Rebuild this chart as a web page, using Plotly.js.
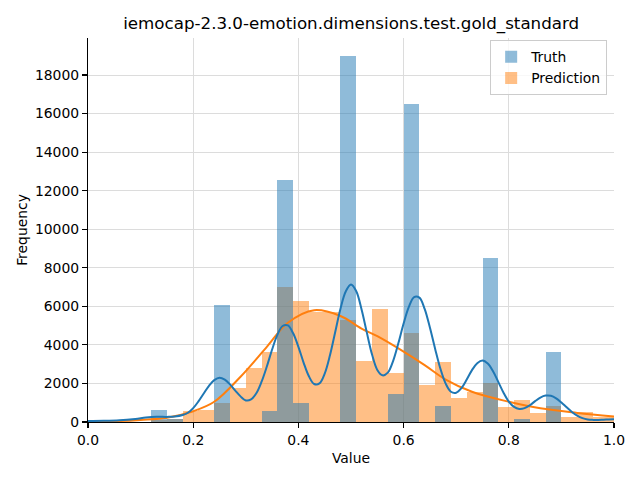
<!DOCTYPE html>
<html>
<head>
<meta charset="utf-8">
<script src="https://cdn.plot.ly/plotly-3.0.1.min.js"></script>
<style>
  html, body { margin: 0; padding: 0; background: #fff; }
  #chart { width: 640px; height: 480px; }
</style>
</head>
<body>
<div id="chart"></div>
<script>
// Histogram bins (centers), bin width 0.03
const binCenters = [0.135, 0.165, 0.195, 0.225, 0.255, 0.285, 0.315, 0.345, 0.375, 0.405,
                    0.435, 0.465, 0.495, 0.525, 0.555, 0.585, 0.615, 0.645, 0.675, 0.705,
                    0.735, 0.765, 0.795, 0.825, 0.855, 0.885, 0.915, 0.945, 0.975, 1.005];
const binWidth = 0.03;

const truthCounts = [620, 130, 0, 0, 6060, 0, 0, 570, 12550, 990,
                     0, 0, 19000, 0, 0, 1450, 16500, 0, 830, 0,
                     0, 8500, 0, 155, 0, 3630, 0, 0, 0, 0];

const predictionCounts = [100, 140, 580, 640, 1000, 1780, 2820, 3650, 7020, 6280,
                          5690, 5690, 5290, 3160, 5850, 2540, 4630, 1920, 3120, 1260,
                          1555, 2000, 780, 1140, 470, 830, 270, 510, 250, 250];

// KDE curves
const truthKdeX = [0.00, 0.03, 0.06, 0.09, 0.11, 0.13, 0.15, 0.165, 0.18, 0.19,
                   0.20, 0.21, 0.22, 0.23, 0.24, 0.25, 0.26, 0.27, 0.28, 0.29,
                   0.30, 0.31, 0.32, 0.33, 0.34, 0.35, 0.36, 0.37, 0.38, 0.39,
                   0.40, 0.41, 0.42, 0.43, 0.44, 0.45, 0.46, 0.47, 0.48, 0.49,
                   0.50, 0.51, 0.52, 0.53, 0.54, 0.55, 0.56, 0.57, 0.58, 0.59,
                   0.60, 0.61, 0.62, 0.63, 0.64, 0.65, 0.66, 0.67, 0.68, 0.69,
                   0.70, 0.71, 0.72, 0.73, 0.74, 0.75, 0.76, 0.77, 0.78, 0.79,
                   0.80, 0.81, 0.82, 0.83, 0.84, 0.85, 0.86, 0.87, 0.88, 0.89,
                   0.90, 0.91, 0.92, 0.93, 0.94, 0.95, 0.96, 0.97, 0.98, 0.99, 1.00];
const truthKdeY = [50, 60, 90, 160, 230, 270, 265, 280, 360, 480,
                   720, 1070, 1480, 1880, 2170, 2300, 2200, 1950, 1630, 1330,
                   1120, 1170, 1490, 2090, 2880, 3760, 4520, 4980, 5010, 4600,
                   3900, 3070, 2370, 1970, 2000, 2510, 3460, 4670, 5880, 6770,
                   7130, 6780, 5850, 4650, 3500, 2700, 2420, 2560, 3160, 4080,
                   5110, 5970, 6480, 6450, 5870, 4900, 3790, 2760, 1990, 1570,
                   1520, 1760, 2200, 2690, 3050, 3190, 3030, 2630, 2080, 1520,
                   1060, 780, 680, 720, 870, 1080, 1270, 1370, 1360, 1230,
                   1010, 760, 520, 330, 200, 130, 110, 110, 120, 130, 140];

const predKdeX = [0.00, 0.05, 0.10, 0.15, 0.20, 0.24, 0.29, 0.34, 0.38, 0.43,
                  0.48, 0.52, 0.55, 0.60, 0.64, 0.68, 0.73, 0.80, 0.86, 0.93, 1.00];
const predKdeY = [20, 40, 110, 220, 560, 1050, 2350, 3900, 5150, 5800,
                  5500, 4850, 4450, 3650, 2950, 2200, 1570, 1050, 710, 470, 280];

const xTicks = [0.0, 0.2, 0.4, 0.6, 0.8, 1.0];
const yTicks = [0, 2000, 4000, 6000, 8000, 10000, 12000, 14000, 16000, 18000];

const FONT = 'DejaVu Sans, sans-serif';

const traces = [
  {
    type: 'bar', name: 'Prediction', x: binCenters, y: predictionCounts,
    width: binCenters.map(() => binWidth),
    marker: { color: 'rgba(255,127,14,0.5)', line: { width: 0 } },
    legendrank: 2, hoverinfo: 'skip'
  },
  {
    type: 'bar', name: 'Truth', x: binCenters, y: truthCounts,
    width: binCenters.map(() => binWidth),
    marker: { color: 'rgba(31,119,180,0.5)', line: { width: 0 } },
    legendrank: 1, hoverinfo: 'skip'
  },
  {
    type: 'scatter', mode: 'lines', x: predKdeX, y: predKdeY,
    line: { color: '#ff7f0e', width: 2, shape: 'spline', smoothing: 1 },
    showlegend: false, hoverinfo: 'skip'
  },
  {
    type: 'scatter', mode: 'lines', x: truthKdeX, y: truthKdeY,
    line: { color: '#1f77b4', width: 2, shape: 'spline', smoothing: 1 },
    showlegend: false, hoverinfo: 'skip'
  }
];

const layout = {
  width: 640, height: 480,
  margin: { l: 88, r: 26, t: 38, b: 58, pad: 0 },
  paper_bgcolor: '#ffffff', plot_bgcolor: '#ffffff',
  barmode: 'overlay', bargap: 0,
  font: { family: FONT, size: 13.9, color: '#000' },
  title: {
    text: 'iemocap-2.3.0-emotion.dimensions.test.gold_standard',
    font: { family: FONT, size: 16.7, color: '#000' },
    x: 0.5487, xanchor: 'center', xref: 'container',
    y: 0.952, yanchor: 'middle', yref: 'container'
  },
  xaxis: {
    range: [0, 1], tickvals: xTicks, ticktext: xTicks.map(v => v.toFixed(1)),
    showgrid: true, gridcolor: '#dcdcdc', gridwidth: 1,
    showline: true, linecolor: '#000', linewidth: 1.1,
    ticks: 'outside', ticklen: 5, tickwidth: 1.1, tickcolor: '#000',
    zeroline: false, mirror: false,
    tickfont: { family: FONT, size: 13.9, color: '#000' },
    title: { text: 'Value', font: { family: FONT, size: 13.9, color: '#000' }, standoff: 6 }
  },
  yaxis: {
    range: [0, 19920], tickvals: yTicks, ticktext: yTicks.map(v => String(v)),
    showgrid: true, gridcolor: '#dcdcdc', gridwidth: 1,
    showline: true, linecolor: '#000', linewidth: 1.1,
    ticks: 'outside', ticklen: 5, tickwidth: 1.1, tickcolor: '#000',
    zeroline: false, mirror: false,
    tickfont: { family: FONT, size: 13.9, color: '#000' },
    title: { text: 'Frequency', font: { family: FONT, size: 13.9, color: '#000' }, standoff: 4 }
  },
  legend: {
    x: 0.987, xanchor: 'right', y: 0.994, yanchor: 'top',
    bgcolor: 'rgba(255,255,255,0.8)', bordercolor: '#cccccc', borderwidth: 1,
    font: { family: FONT, size: 13.9, color: '#000' },
    traceorder: 'normal'
  },
  showlegend: true
};

Plotly.newPlot('chart', traces, layout, { staticPlot: true, displayModeBar: false });
</script>
</body>
</html>
